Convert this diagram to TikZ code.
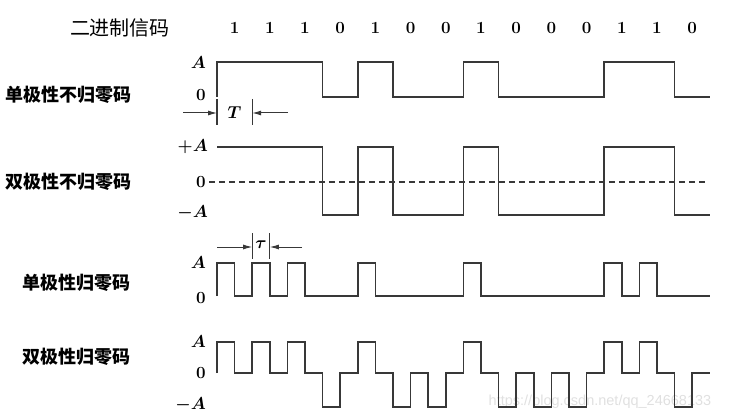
\documentclass[tikz,border=0pt]{standalone}
\usepackage{fontspec}
\newfontfamily\cjk{Noto Sans CJK SC}
\newfontfamily\wmfont{Liberation Sans}
\usetikzlibrary{arrows.meta,positioning}

\newcommand{\codebits}{1,1,1,0,1,0,0,1,0,0,0,1,1,0}

\begin{document}
\begin{tikzpicture}
	[x=1pt,y=-1pt,
	wave/.style={line width=1.6pt,draw=black!78,line join=miter},
	lvl/.style={font=\bfseries\boldmath\fontsize{17}{17}\selectfont,inner sep=0pt,anchor=east},
	codename/.style={font=\cjk\bfseries\fontsize{18}{18}\selectfont,inner sep=0pt,anchor=west},
	bitlbl/.style={font=\bfseries\fontsize{17}{17}\selectfont,inner sep=0pt},
	tick/.style={line width=1.2pt,draw=black!78},
	dim/.style={line width=1pt,draw=black!78,-{Latex[length=9pt,width=5pt]}}]
	\useasboundingbox (0,0) rectangle (732,420);

	\node[text=black!12,font=\wmfont\fontsize{14.5}{14.5}\selectfont,inner sep=0pt] (wm) at (600,402) {https://blog.csdn.net/qq\_24668133};

	\node[font=\cjk\fontsize{20}{20}\selectfont,inner sep=0pt] (head) at (120,28) {二进制信码};
	\foreach \b [count=\i from 0] in \codebits
	\node[bitlbl] (b\i) at ({234.6+35.2*\i},28) {\b};

	\node[codename] (n1) at (5,95)  {单极性不归零码};
	\node[codename] (n2) at (5,182) {双极性不归零码};
	\node[codename] (n3) at (22,283) {单极性归零码};
	\node[codename] (n4) at (22,357) {双极性归零码};

	\node[lvl] (a1) at (206,63)  {$A$};
	\node[lvl] (z1) at (206,95)  {0};
	\node[lvl] (a2) at (208,147) {$+A$};
	\node[lvl] (z2) at (206,182) {0};
	\node[lvl] (m2) at (208,213) {$-A$};
	\node[lvl] (a3) at (206,263) {$A$};
	\node[lvl] (z3) at (206,298) {0};
	\node[lvl] (a4) at (206,342) {$A$};
	\node[lvl] (z4) at (206,373) {0};
	\node[lvl] (m4) at (206,405) {$-A$};

	\draw[wave] (217,97) \foreach \b [count=\i from 0, evaluate=\b as \y using 97-35*\b] in \codebits
	{ -- ({217+35.2*\i},\y) -- ({252.2+35.2*\i},\y) };

	\draw[line width=1.3pt,draw=black!78,dash pattern=on 6pt off 4pt] (z2.east) ++(3,0) -- (707,182);
	\draw[wave] (217,147) \foreach \b [count=\i from 0, evaluate=\b as \y using 215-68*\b] in \codebits
	{ -- ({217+35.2*\i},\y) -- ({252.2+35.2*\i},\y) };

	\draw[wave] (217,296) \foreach \b [count=\i from 0, evaluate=\b as \y using 296-33*\b] in \codebits
	{ -- ({217+35.2*\i},\y) -- ({234.6+35.2*\i},\y) -- ({234.6+35.2*\i},296) -- ({252.2+35.2*\i},296) };

	\draw[wave] (217,373) \foreach \b [count=\i from 0, evaluate=\b as \y using 407-65*\b] in \codebits
	{ -- ({217+35.2*\i},\y) -- ({234.6+35.2*\i},\y) -- ({234.6+35.2*\i},373) -- ({252.2+35.2*\i},373) };

	\coordinate (tA) at (217,113);
	\coordinate (tB) at (252.2,113);
	\coordinate (tL) at (183,113);
	\coordinate (tR) at (288,113);
	\draw[tick] (217,99) -- (217,125);
	\draw[tick] (252.2,99) -- (252.2,125);
	\draw[dim] (tL) -- (tA);
	\draw[dim] (tR) -- (tB);
	\node[font=\boldmath\fontsize{17}{17}\selectfont,inner sep=0pt] (tT) at (234.6,113) {$T$};

	\coordinate (uA) at (252.2,247);
	\coordinate (uB) at (269.8,247);
	\coordinate (uL) at (217,247);
	\coordinate (uR) at (302,247);
	\draw[tick] (252.2,233) -- (252.2,259);
	\draw[tick] (269.8,233) -- (269.8,259);
	\draw[dim] (uL) -- (uA);
	\draw[dim] (uR) -- (uB);
	\node[font=\boldmath\fontsize{17}{17}\selectfont,inner sep=0pt] (tau) at (261,245) {$\tau$};
\end{tikzpicture}
\end{document}
